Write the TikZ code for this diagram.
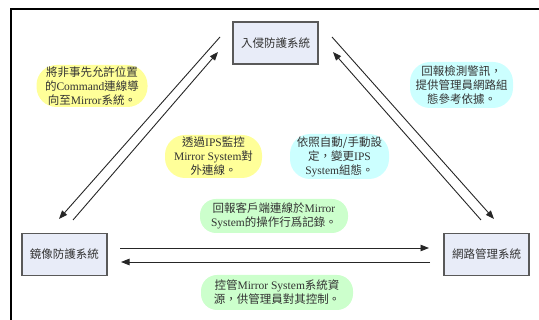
\documentclass[tikz,border=0pt]{standalone}
\usepackage{fontspec}
\setmainfont{Liberation Serif}
\newfontfamily\cj{Noto Sans CJK TC}
\usepackage{xcolor}
\usetikzlibrary{arrows.meta}
\newcommand\en[1]{{\rmfamily #1}}
\definecolor{sysfill}{RGB}{232,236,248}
\definecolor{notey}{RGB}{255,255,153}
\definecolor{notec}{RGB}{204,255,255}
\definecolor{noteg}{RGB}{204,255,204}

\begin{document}
\begin{tikzpicture}[x=1pt,y=-1pt,
                     sys/.style={rectangle,
                         draw=black!65,
                         line width=1.2pt,
                         fill=sysfill,
                         minimum width=85pt,
                         minimum height=42pt,
                         text=black!80,
                         font={\cj\fontsize{11.5}{14}\selectfont}},
                     note/.style={rectangle,
                         rounded corners=20pt,
                         inner sep=1pt,
                         align=center,
                         text=black!80,
                         font={\cj\fontsize{11.5}{14}\selectfont}},
                     flow/.style={-{Triangle[length=8.5pt,width=6.5pt]},
                         draw=black!85,
                         line width=0.9pt}]
    \useasboundingbox (0,0) rectangle (539,320);
    \draw[line width=2pt] (11,320) -- (11,9) -- (539,9);
    % systems
    \node[sys](ips) at (275.5,43) {入侵防護系統};
    \node[sys](mir) at (64.5,254.5) {鏡像防護系統};
    \node[sys](nms) at (486.5,254.5) {網路管理系統};
    % notes
    \node[note, fill=notey, minimum width=111pt, minimum height=42pt](n1) at (92,86)
        {將非事先允許位置\\的\en{Command}連線導\\向至\en{Mirror}系統。};
    \node[note, fill=notey, minimum width=97pt, minimum height=43pt](n2) at (213.5,156.5)
        {透過\en{IPS}監控\\\en{Mirror System}對\\外連線。};
    \node[note, fill=notec, minimum width=103pt, minimum height=46pt](n3) at (461.5,85)
        {回報檢測警訊，\\提供管理員網路組\\態參考依據。};
    \node[note, fill=notec, minimum width=99pt, minimum height=45pt](n4) at (339.5,156.5)
        {依照自動/手動設\\定，變更\en{IPS}\\\en{System}組態。};
    \node[note, fill=noteg, rounded corners=16pt, minimum width=148pt, minimum height=34pt](n5) at (274,216)
        {回報客戶端連線於\en{Mirror}\\\en{System}的操作行爲記錄。};
    \node[note, fill=noteg, rounded corners=16pt, minimum width=152pt, minimum height=35pt](n6) at (277,292.5)
        {控管\en{Mirror System}系統資\\源，供管理員對其控制。};
    % arrow ends
    \coordinate (il1) at (220,37);  \coordinate (il2) at (59,219);
    \coordinate (ml1) at (73,220);  \coordinate (ml2) at (218,52);
    \coordinate (ir1) at (332,37);  \coordinate (ir2) at (494,219);
    \coordinate (nr1) at (481,220); \coordinate (nr2) at (333,52);
    \coordinate (mh1) at (120,248); \coordinate (mh2) at (429,248);
    \coordinate (nh1) at (430,262); \coordinate (nh2) at (121,262);
    \foreach \u / \v in {il1/il2,ml1/ml2,ir1/ir2,nr1/nr2,mh1/mh2,nh1/nh2}
        \draw[flow] (\u) -- (\v);
\end{tikzpicture}
\end{document}
